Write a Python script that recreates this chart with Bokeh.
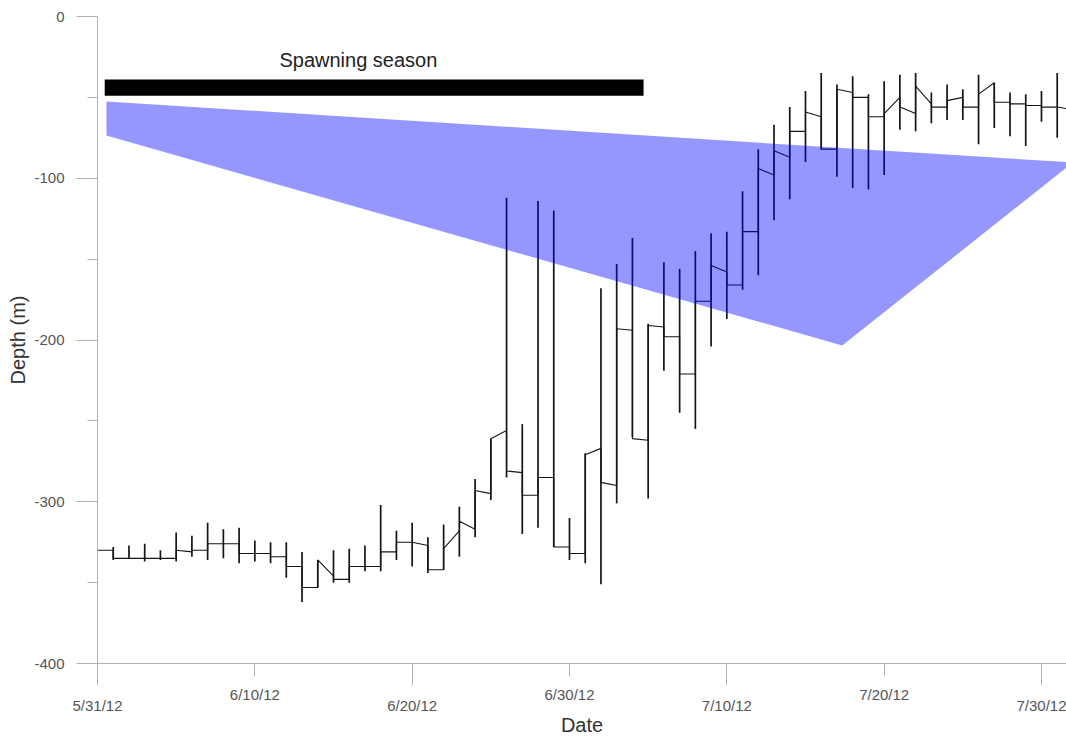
import datetime as dt

from bokeh.embed import file_html
from bokeh.models import (CustomJSTickFormatter, DatetimeAxis, FixedTicker,
                          Label, Range1d)
from bokeh.plotting import figure
from bokeh.resources import INLINE

FONT = "Liberation Sans"
AXIS_GREY = "#b3b3b3"
LABEL_GREY = "#555555"

origin = dt.datetime(2012, 5, 31)

# Daily dive record: one entry per day since 5/31/12.
# top/bottom = shallowest/deepest depth reached around midnight,
# arrive/leave = depth at which the track enters and exits that excursion.
day = list(range(62))
depth_top = [-330, -328, -327, -326, -330, -319, -321, -313, -317, -316,
             -324, -325, -325, -331, -336, -330, -329, -327, -302, -318,
             -313, -322, -314, -303, -286, -261, -112, -252, -114, -120,
             -310, -270, -168, -153, -137, -190, -152, -156, -145, -134,
             -133, -108, -82, -67, -56, -46, -35, -42, -37, -48,
             -40, -36, -35, -47, -42, -45, -36, -41, -47, -48,
             -46, -35]
depth_bottom = [-330, -336, -335, -337, -336, -337, -334, -336, -335, -338,
                -337, -338, -347, -362, -353, -350, -350, -343, -343, -336,
                -340, -344, -342, -334, -322, -299, -285, -320, -316, -328,
                -336, -338, -351, -301, -260, -298, -219, -245, -255, -204,
                -187, -169, -160, -126, -113, -90, -82, -99, -106, -107,
                -98, -70, -71, -66, -64, -64, -79, -69, -74, -80,
                -65, -75]
depth_arrive = [-330, -330, -335, -335, -335, -335, -331, -330, -326, -326,
                -332, -332, -334, -340, -353, -346, -348, -340, -340, -331,
                -325, -327, -342, -318, -317, -295, -256, -282, -296, -285,
                -328, -332, -267, -290, -194, -262, -192, -198, -221, -176,
                -158, -166, -133, -98, -87, -71, -62, -82, -47, -50,
                -62, -50, -60, -54, -56, -50, -56, -41, -53, -54,
                -55, -56]
depth_leave = [-330, -335, -335, -335, -335, -330, -330, -326, -326, -332,
               -332, -334, -340, -353, -336, -348, -340, -340, -331, -325,
               -325, -342, -329, -312, -293, -261, -281, -296, -285, -328,
               -332, -271, -288, -193, -261, -191, -198, -221, -176, -154,
               -166, -133, -94, -83, -71, -59, -82, -45, -50, -62,
               -60, -56, -43, -56, -52, -56, -48, -53, -54, -55,
               -56, -56]
track_end_time = dt.datetime(2012, 7, 31, 15)
track_end_depth = -57

# Spawning season bar
season_start = dt.datetime(2012, 5, 31, 11)
season_end = dt.datetime(2012, 7, 4, 17)
season_top = -39
season_bottom = -49
season_text = "Spawning season"
season_text_time = dt.datetime(2012, 6, 16, 14)
season_text_depth = -27

# Shaded depth envelope
envelope_time = [dt.datetime(2012, 5, 31, 13, 40), dt.datetime(2012, 8, 1, 0),
                 dt.datetime(2012, 7, 17, 8), dt.datetime(2012, 5, 31, 13, 40)]
envelope_depth = [-52.5, -90.3, -203.4, -73.6]

# Axis ticks (labels alternate between two rows)
date_ticks_low = [dt.datetime(2012, 5, 31), dt.datetime(2012, 6, 20),
                  dt.datetime(2012, 7, 10), dt.datetime(2012, 7, 30)]
date_ticks_high = [dt.datetime(2012, 6, 10), dt.datetime(2012, 6, 30),
                   dt.datetime(2012, 7, 20)]
depth_ticks = [0, -100, -200, -300, -400]
depth_minor_ticks = [-50, -150, -250, -350]

x_start = origin
x_end = dt.datetime(2012, 7, 31, 14, 10)


def ms(t):
    return (t - dt.datetime(1970, 1, 1)).total_seconds() * 1000.0


times = [origin + dt.timedelta(days=d) for d in day]
path_t, path_d = [], []
for t, a, b in zip(times, depth_arrive, depth_leave):
    path_t += [t, t]
    path_d += [a, b]
path_t.append(track_end_time)
path_d.append(track_end_depth)

p = figure(width=1066, height=738, x_axis_type="datetime",
           x_range=Range1d(ms(x_start), ms(x_end)), y_range=Range1d(-400, 0),
           output_backend="svg", toolbar_location=None,
           min_border_left=97, min_border_right=0, min_border_top=16,
           min_border_bottom=75)
p.xgrid.visible = False
p.ygrid.visible = False
p.outline_line_color = None
p.background_fill_color = "white"
p.border_fill_color = "white"

# depth track and daily excursions
p.segment(x0=times, y0=depth_top, x1=times, y1=depth_bottom,
          line_color="#151515", line_width=1.7)
p.line(path_t, path_d, line_color="#151515", line_width=1.1)

# translucent envelope over the track
p.patch(envelope_time, envelope_depth, fill_color="#0000ff", fill_alpha=0.41,
        line_color=None)

# spawning season bar and caption
p.quad(left=[season_start], right=[season_end], top=[season_top],
       bottom=[season_bottom], fill_color="black", line_color=None)
p.add_layout(Label(x=ms(season_text_time), y=season_text_depth, text=season_text,
                   text_align="center", text_baseline="middle",
                   text_font=FONT, text_font_size="20px", text_color="#222222"))

date_fmt = CustomJSTickFormatter(code="""
    const d = new Date(tick);
    return (d.getUTCMonth() + 1) + "/" + d.getUTCDate() + "/" +
           String(d.getUTCFullYear()).slice(2);
""")

# y axis
ya = p.yaxis[0]
ya.ticker = FixedTicker(ticks=depth_ticks, minor_ticks=depth_minor_ticks)
ya.formatter = CustomJSTickFormatter(code="return String(tick);")
ya.major_tick_out = 21
ya.major_tick_in = 0
ya.minor_tick_out = 10
ya.minor_tick_in = 0
ya.axis_line_color = AXIS_GREY
ya.major_tick_line_color = AXIS_GREY
ya.minor_tick_line_color = AXIS_GREY
ya.major_label_standoff = 12
ya.major_label_text_font = FONT
ya.major_label_text_font_size = "15px"
ya.major_label_text_color = LABEL_GREY
ya.axis_label = "Depth (m)"
ya.axis_label_text_font = FONT
ya.axis_label_text_font_size = "20px"
ya.axis_label_text_font_style = "normal"
ya.axis_label_text_color = "#333333"
ya.axis_label_standoff = 2

# x axis, upper row: short ticks with labels, long ticks unlabeled
xa = p.xaxis[0]
xa.ticker = FixedTicker(ticks=[ms(t) for t in date_ticks_high],
                        minor_ticks=[ms(t) for t in date_ticks_low])
xa.formatter = date_fmt
xa.major_tick_out = 13
xa.major_tick_in = 0
xa.minor_tick_out = 22
xa.minor_tick_in = 0
xa.axis_line_color = AXIS_GREY
xa.major_tick_line_color = AXIS_GREY
xa.minor_tick_line_color = AXIS_GREY
xa.major_label_standoff = 0
xa.major_label_text_font = FONT
xa.major_label_text_font_size = "15px"
xa.major_label_text_color = LABEL_GREY

# x axis, lower row: labels for the long ticks and the axis title
xb = DatetimeAxis(ticker=FixedTicker(ticks=[ms(t) for t in date_ticks_low]),
                  formatter=date_fmt)
xb.axis_line_color = None
xb.major_tick_line_color = None
xb.major_tick_out = 0
xb.major_tick_in = 0
xb.minor_tick_line_color = None
xb.major_label_standoff = -9
xb.major_label_text_font = FONT
xb.major_label_text_font_size = "15px"
xb.major_label_text_color = LABEL_GREY
xb.axis_label = "Date"
xb.axis_label_text_font = FONT
xb.axis_label_text_font_size = "20px"
xb.axis_label_text_font_style = "normal"
xb.axis_label_text_color = "#333333"
xb.axis_label_standoff = -3
p.add_layout(xb, "below")

open("out.html", "w").write(file_html(p, INLINE))
